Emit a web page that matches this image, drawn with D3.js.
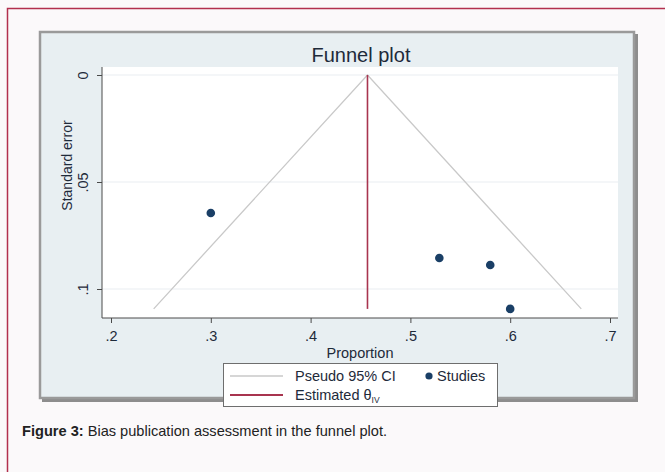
<!DOCTYPE html>
<html><head><meta charset="utf-8">
<script src="https://cdn.jsdelivr.net/npm/d3@7"></script>
<style>html,body{margin:0;padding:0;background:#fbf9fa;}svg{display:block;}</style>
</head><body>
<svg id="c" width="665" height="472"></svg>
<script>
// ---- data ----
const studyProportion = [0.300, 0.529, 0.580, 0.600];
const studySE = [0.0645, 0.0855, 0.0888, 0.1093];
const thetaIV = 0.457;
const seMax = 0.1093;
const z95 = 1.96;
const xTickValues = [0.2, 0.3, 0.4, 0.5, 0.6, 0.7];
const xTickLabels = [".2", ".3", ".4", ".5", ".6", ".7"];
const yTickValues = [0, 0.05, 0.1];
const yTickLabels = ["0", ".05", ".1"];

const svg = d3.select("#c");
const font = "'Liberation Sans', Arial, sans-serif";
const textCol = "#1e2a3a";

// outer red frame
svg.append("rect").attr("x", 7.5).attr("y", 8.5).attr("width", 700).attr("height", 500)
  .attr("fill", "#fbf9fa").attr("stroke", "#b2304e").attr("stroke-width", 1.5);

// panel
svg.append("rect").attr("x", 42).attr("y", 34).attr("width", 596).attr("height", 368)
  .attr("fill", "#8d8d8d");
svg.append("rect").attr("x", 40).attr("y", 32).attr("width", 594).attr("height", 366)
  .attr("fill", "#e8eff2").attr("stroke", "#9a9a9a").attr("stroke-width", 2.5);

// plot region
const L = 102, R = 618, T = 67, B = 318;
const x = d3.scaleLinear().domain([0.2, 0.7]).range([111, 610]);
const y = d3.scaleLinear().domain([0, 0.1]).range([75, 289]);

svg.append("rect").attr("x", L).attr("y", T).attr("width", R - L).attr("height", B - T).attr("fill", "#ffffff");

// gridlines
svg.append("g").selectAll("line").data(yTickValues).join("line")
  .attr("x1", L).attr("x2", R).attr("y1", d => y(d)).attr("y2", d => y(d))
  .attr("stroke", "#e9eef1").attr("stroke-width", 1.2);

// title
svg.append("text").attr("x", (L + R) / 2 + 1).attr("y", 62).attr("text-anchor", "middle")
  .attr("font-family", font).attr("font-size", 20).attr("fill", textCol).text("Funnel plot");

// funnel lines
const funnel = d3.line().x(d => x(d[0])).y(d => y(d[1]));
svg.append("path").datum([[thetaIV - z95 * seMax, seMax], [thetaIV, 0], [thetaIV + z95 * seMax, seMax]])
  .attr("d", funnel).attr("fill", "none").attr("stroke", "#c9c9c9").attr("stroke-width", 1.3);

// estimated theta line
svg.append("line").attr("x1", x(thetaIV)).attr("x2", x(thetaIV)).attr("y1", y(0)).attr("y2", y(seMax))
  .attr("stroke", "#a8344f").attr("stroke-width", 1.6);

// studies
svg.append("g").selectAll("circle").data(studyProportion).join("circle")
  .attr("cx", d => x(d)).attr("cy", (d, i) => y(studySE[i])).attr("r", 4.3).attr("fill", "#1a3f66");

// axes
const xAxis = d3.axisBottom(x).tickValues(xTickValues).tickFormat((d, i) => xTickLabels[i]).tickSize(5).tickSizeOuter(0);
const gx = svg.append("g").attr("transform", `translate(0,${B})`).call(xAxis);
gx.select(".domain").attr("d", `M${L},0H${R}`).attr("stroke", "#4a4a4a");
gx.selectAll("line").attr("stroke", "#4a4a4a");
gx.selectAll(".tick text").attr("font-family", font).attr("font-size", 14.5).attr("fill", textCol)
  .attr("y", 9).attr("dy", "0.95em");

const yAxis = d3.axisLeft(y).tickValues(yTickValues).tickFormat((d, i) => yTickLabels[i]).tickSize(5).tickSizeOuter(0);
const gy = svg.append("g").attr("transform", `translate(${L},0)`).call(yAxis);
gy.select(".domain").attr("d", `M0,${T}V${B}`).attr("stroke", "#4a4a4a");
gy.selectAll("line").attr("stroke", "#4a4a4a");
gy.selectAll(".tick text").attr("font-family", font).attr("font-size", 14.5).attr("fill", textCol)
  .attr("x", 0).attr("dy", 0).attr("text-anchor", "middle")
  .attr("transform", "translate(-14,0) rotate(-90)");

// axis titles
svg.append("text").attr("x", (L + R) / 2).attr("y", 358).attr("text-anchor", "middle")
  .attr("font-family", font).attr("font-size", 14.5).attr("fill", textCol).text("Proportion");
svg.append("text").attr("transform", `translate(72,${(T + B) / 2 - 27}) rotate(-90)`).attr("text-anchor", "middle")
  .attr("font-family", font).attr("font-size", 14).attr("fill", textCol).text("Standard error");

// legend
const lg = svg.append("g");
lg.append("rect").attr("x", 223.5).attr("y", 363.5).attr("width", 274).attr("height", 43)
  .attr("fill", "#ffffff").attr("stroke", "#6e6e6e").attr("stroke-width", 1);
lg.append("line").attr("x1", 230).attr("x2", 283).attr("y1", 376).attr("y2", 376).attr("stroke", "#c9c9c9").attr("stroke-width", 1.5);
lg.append("text").attr("x", 295).attr("y", 381).attr("font-family", font).attr("font-size", 14.5).attr("fill", textCol).text("Pseudo 95% CI");
lg.append("circle").attr("cx", 429).attr("cy", 376).attr("r", 3.6).attr("fill", "#1a3f66");
lg.append("text").attr("x", 437).attr("y", 381).attr("font-family", font).attr("font-size", 14.5).attr("fill", textCol).text("Studies");
lg.append("line").attr("x1", 230).attr("x2", 283).attr("y1", 395).attr("y2", 395).attr("stroke", "#a8344f").attr("stroke-width", 1.8);
const est = lg.append("text").attr("x", 295).attr("y", 400).attr("font-family", font).attr("font-size", 14.5).attr("fill", textCol);
est.append("tspan").text("Estimated θ");
est.append("tspan").attr("font-size", 8.5).attr("dy", 3).text("IV");

// caption
const cap = svg.append("text").attr("x", 22).attr("y", 436).attr("font-family", font).attr("font-size", 14.6).attr("fill", "#222");
cap.append("tspan").attr("font-weight", "bold").text("Figure 3:");
cap.append("tspan").text(" Bias publication assessment in the funnel plot.");
</script>
</body></html>
